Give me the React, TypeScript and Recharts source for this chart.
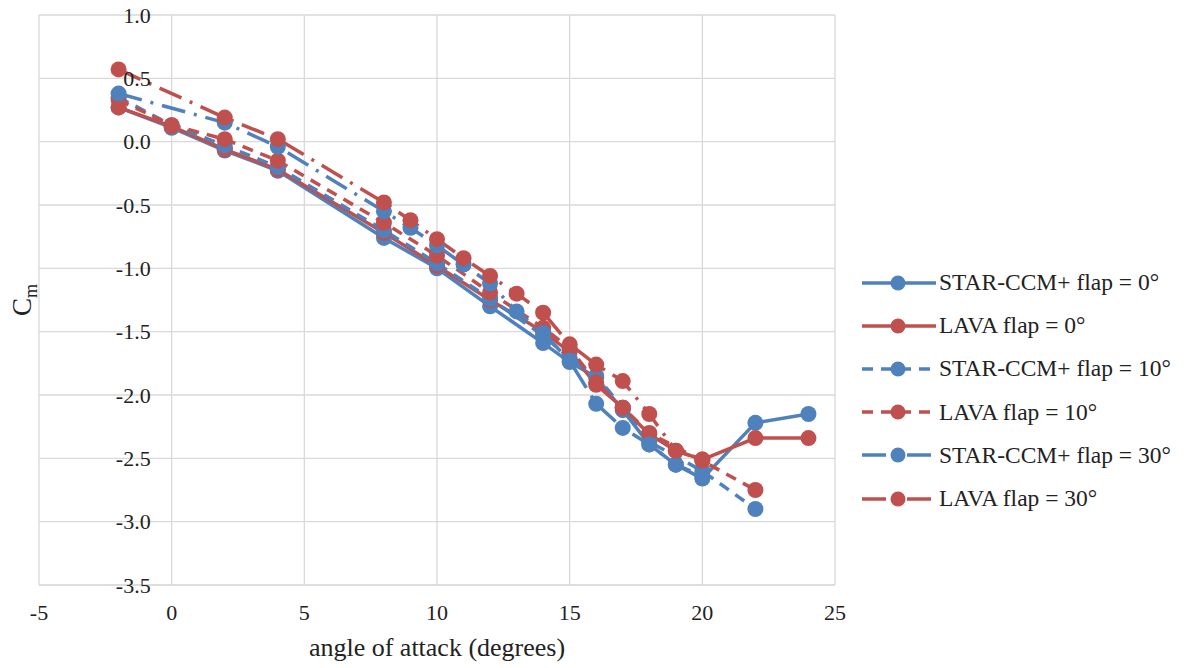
import { LineChart, Line, XAxis, YAxis, CartesianGrid, ReferenceDot } from "recharts"

const BLUE = "#4f81bd"
const RED = "#c0504d"

const xTicks = [-5, 0, 5, 10, 15, 20, 25]
const yTicks = [1.0, 0.5, 0.0, -0.5, -1.0, -1.5, -2.0, -2.5, -3.0, -3.5]

// flap = 0 deg
const alpha0 = [-2, 0, 2, 4, 8, 10, 12, 14, 15, 16, 17, 18, 19, 20, 22, 24]
const starFlap0 = [0.27, 0.11, -0.07, -0.23, -0.76, -1.0, -1.3, -1.59, -1.74, -1.86, -2.12, -2.39, -2.55, -2.66, -2.22, -2.15]
const lavaFlap0 = [0.27, 0.12, -0.06, -0.22, -0.72, -0.98, -1.25, -1.5, -1.66, -1.92, -2.1, -2.31, -2.44, -2.51, -2.34, -2.34]

// flap = 10 deg
const alpha10 = [-2, 0, 2, 4, 8, 10, 12, 14, 15, 16, 17, 18, 20, 22]
const starFlap10 = [0.35, 0.13, -0.03, -0.2, -0.7, -0.96, -1.24, -1.53, -1.71, -1.85, -2.1, -2.37, -2.6, -2.9]
const lavaFlap10 = [0.33, 0.13, 0.02, -0.15, -0.64, -0.9, -1.19, -1.47, -1.63, -1.9, -2.1, -2.3, -2.52, -2.75]

// flap = 30 deg
const alpha30 = [-2, 2, 4, 8, 9, 10, 11, 12, 13, 14, 15, 16, 17, 18, 19, 20]
const starFlap30 = [0.38, 0.15, -0.04, -0.55, -0.68, -0.82, -0.97, -1.12, -1.34, -1.51, -1.73, -2.07, -2.26, -2.39, -2.55, -2.64]
const lavaFlap30 = [0.57, 0.19, 0.02, -0.48, -0.62, -0.77, -0.92, -1.06, -1.2, -1.35, -1.6, -1.76, -1.89, -2.15, -2.44, -2.51]

const toPoints = (xs: number[], ys: number[]) => xs.map((x, i) => ({ x, y: ys[i] }))

const series = [
  { name: "STAR-CCM+ flap = 0°", color: BLUE, dash: undefined, data: toPoints(alpha0, starFlap0) },
  { name: "LAVA flap = 0°", color: RED, dash: undefined, data: toPoints(alpha0, lavaFlap0) },
  { name: "STAR-CCM+ flap = 10°", color: BLUE, dash: "11 8", data: toPoints(alpha10, starFlap10) },
  { name: "LAVA flap = 10°", color: RED, dash: "11 8", data: toPoints(alpha10, lavaFlap10) },
  { name: "STAR-CCM+ flap = 30°", color: BLUE, dash: "24 9 3 9", data: toPoints(alpha30, starFlap30) },
  { name: "LAVA flap = 30°", color: RED, dash: "24 9 3 9", data: toPoints(alpha30, lavaFlap30) },
]

const FONT = "'Liberation Serif', 'Times New Roman', Times, serif"

function Legend() {
  return (
    <div style={{ position: "absolute", left: 860, top: 261, fontSize: 23.5, color: "#222" }}>
      {series.map((s) => (
        <div key={s.name} style={{ display: "flex", alignItems: "center", height: 43.2, whiteSpace: "nowrap" }}>
          <svg width={78} height={20} style={{ marginRight: 1 }}>
            <line x1={2} y1={10} x2={76} y2={10} stroke={s.color} strokeWidth={3.5} strokeDasharray={s.dash} />
            <circle cx={38} cy={10} r={7.5} fill={s.color} />
          </svg>
          <span>{s.name}</span>
        </div>
      ))}
    </div>
  )
}

export default function App() {
  return (
    <div className="cm-chart" style={{ position: "absolute", left: 0, top: 0, width: 1186, height: 668, background: "#fff" }}>
      <style>{`.cm-chart, .cm-chart * { font-family: ${FONT}; } .cm-chart svg text { font-family: ${FONT}; }`}</style>
      <LineChart width={1186} height={668} margin={{ top: 15, right: 351, bottom: 53, left: 39 }}>
        <CartesianGrid stroke="#d9d9d9" strokeWidth={1.3} />
        <XAxis
          type="number"
          dataKey="x"
          domain={[-5, 25]}
          ticks={xTicks}
          allowDataOverflow
          height={30}
          tickLine={false}
          axisLine={{ stroke: "#d9d9d9" }}
          tickSize={0}
          tickMargin={19}
          tick={{ fontSize: 22, fill: "#222" }}
          label={{ value: "angle of attack (degrees)", position: "bottom", offset: 23, fontSize: 26, fill: "#222" }}
        />
        <YAxis type="number" dataKey="y" domain={[-3.5, 1]} ticks={yTicks} allowDataOverflow hide />
        {yTicks.map((t) => (
          <ReferenceDot
            key={t}
            x={0}
            y={t}
            r={0}
            stroke="none"
            fill="none"
            ifOverflow="visible"
            label={{ value: t.toFixed(1), position: "left", offset: 21, fontSize: 22, fill: "#222" }}
          />
        ))}
        {series.map((s) => (
          <Line
            key={s.name}
            data={s.data}
            dataKey="y"
            name={s.name}
            type="linear"
            stroke={s.color}
            strokeWidth={3.5}
            strokeDasharray={s.dash}
            dot={{ r: 8, fill: s.color, stroke: "none", strokeDasharray: "" }}
            activeDot={false}
            isAnimationActive={false}
          />
        ))}
      </LineChart>
      <div
        style={{
          position: "absolute",
          left: 0,
          top: 283,
          width: 44,
          height: 34,
          transform: "rotate(-90deg)",
          fontSize: 27,
          color: "#222",
          textAlign: "center",
          lineHeight: "34px",
        }}
      >
        C<sub style={{ fontSize: 18 }}>m</sub>
      </div>
      <Legend />
    </div>
  )
}
